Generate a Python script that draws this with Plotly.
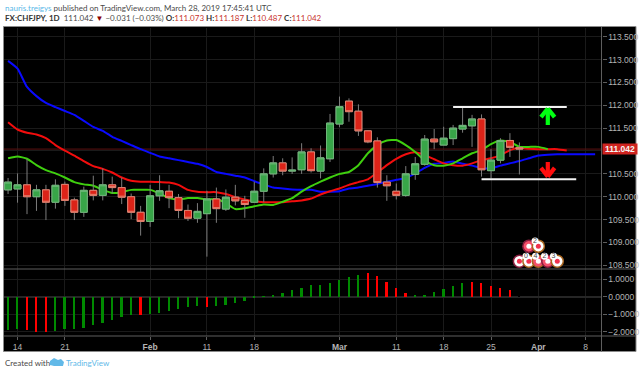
import plotly.graph_objects as go

W, H = 640, 374

bars = list(range(-1, 54))
opens = [110.15,110.17,110.26,110.00,110.15,109.88,110.27,109.93,109.66,110.14,110.03,110.26,110.20,110.00,109.66,109.46,110.02,110.12,109.98,109.70,109.53,109.63,109.95,109.73,109.99,109.92,109.88,110.12,110.50,110.74,110.56,110.59,110.98,110.56,110.83,111.59,112.09,111.87,111.44,111.22,110.32,110.12,110.03,110.49,110.71,111.26,111.13,111.27,111.48,111.55,111.70,110.57,110.80,111.23,111.073]
highs = [110.41,110.51,110.82,110.26,110.26,110.38,110.33,109.98,110.22,110.46,110.62,110.44,110.42,110.07,109.80,110.26,110.47,110.26,110.06,109.83,109.86,110.13,110.20,110.16,110.26,110.02,110.33,110.62,110.89,110.84,110.86,111.17,111.06,111.12,111.81,112.19,112.15,112.02,111.45,111.30,110.47,110.29,110.67,110.87,111.35,111.48,111.53,111.57,111.95,111.79,111.80,111.04,111.28,111.39,111.187]
lows = [110.06,109.87,109.62,109.69,109.49,109.74,109.80,109.49,109.56,109.92,109.92,110.07,109.84,109.51,109.15,109.34,109.91,109.75,109.53,109.47,109.43,108.69,109.43,109.69,109.81,109.54,109.87,109.88,110.42,110.47,110.50,110.50,110.53,110.40,110.76,111.52,111.64,111.33,111.17,110.20,109.91,109.94,110.00,110.37,110.68,111.04,111.13,111.13,111.40,111.09,110.44,110.40,110.73,110.87,110.487]
closes = [110.32,110.26,110.00,110.15,109.88,110.25,109.92,109.66,110.14,110.03,110.26,110.20,109.99,109.66,109.46,110.02,110.13,109.98,109.70,109.53,109.68,109.95,109.74,109.99,109.91,109.83,110.12,110.50,110.74,110.56,110.58,110.98,110.57,110.85,111.61,111.97,111.86,111.44,111.20,110.31,110.24,110.03,110.50,110.72,111.26,111.20,111.28,111.50,111.56,111.70,110.59,110.80,111.23,111.08,111.042]

blue_ma = [112.97,112.80,112.40,112.20,112.05,111.96,111.875,111.79,111.66,111.525,111.44,111.31,111.22,111.13,111.04,110.96,110.88,110.84,110.80,110.76,110.72,110.65,110.54,110.50,110.46,110.42,110.34,110.27,110.20,110.18,110.16,110.15,110.15,110.11,110.11,110.12,110.18,110.20,110.24,110.28,110.33,110.37,110.41,110.51,110.63,110.72,110.74,110.77,110.72,110.68,110.63,110.62,110.68,110.73,110.78,110.84,110.90,110.92,110.93,110.93,110.93,110.93,110.93]
red_ma = [111.63,111.47,111.40,111.36,111.28,111.13,111.01,110.90,110.78,110.67,110.61,110.53,110.42,110.35,110.33,110.33,110.32,110.31,110.26,110.15,110.11,110.10,110.10,110.06,109.99,109.94,109.90,109.88,109.88,109.88,109.90,109.92,109.96,110.05,110.12,110.18,110.26,110.32,110.38,110.53,110.69,110.83,110.93,110.97,110.91,110.82,110.73,110.69,110.68,110.73,110.80,110.84,110.91,111.02,111.07,111.05,111.04,111.04,111.04,111.01]
green_ma = [110.84,110.88,110.83,110.69,110.58,110.51,110.42,110.32,110.27,110.24,110.15,110.08,110.10,110.15,110.15,110.15,110.07,109.97,109.94,109.97,109.97,109.94,109.95,109.86,109.73,109.75,109.79,109.83,109.82,109.89,109.97,110.11,110.23,110.33,110.42,110.50,110.54,110.69,110.95,111.13,111.23,111.24,111.13,110.98,110.79,110.69,110.68,110.73,110.84,110.95,111.02,111.15,111.23,111.20,111.09,111.09,111.09,111.04]

osc_values = [-1.90,-1.85,-1.89,-2.00,-2.04,-1.94,-1.85,-1.83,-1.77,-1.60,-1.49,-1.33,-1.14,-1.05,-1.05,-1.01,-0.91,-0.82,-0.72,-0.59,-0.51,-0.57,-0.55,-0.48,-0.34,-0.25,-0.08,-0.02,0.10,0.21,0.38,0.51,0.67,0.67,0.78,0.95,1.10,1.26,1.33,1.18,0.84,0.50,0.21,0.04,0.10,0.27,0.46,0.63,0.78,0.82,0.78,0.61,0.50,0.36,0.23]
osc_rising = "GGRRRGGGGGGGGGRGGGGGGRGGGGGGGGGGGGGGGGRRRRRGGGGGGRRRRR"

price_ticks = [108.5,109.0,109.5,110.0,110.5,111.0,111.5,112.0,112.5,113.0,113.5]
price_labels = ["108.500","109.000","109.500","110.000","110.500","","111.500","112.000","112.500","113.000","113.500"]
osc_ticks = [1,0,-1,-2]
osc_labels = ["1.0000","0.0000","\u22121.0000","\u22122.0000"]
date_ticks = [0,5,14,20,25,34,40,45,50,55,60]
date_labels = ["14","21","<b>Feb</b>","11","18","<b>Mar</b>","11","18","25","<b>Apr</b>","8"]
last_price = 111.042
upper_level = [46, 58, 111.96]
lower_level = [49, 59, 110.38]

GRID = "#1a1a1a"
AXIS_TXT = "#b4b4b4"
FONT = "Liberation Sans"
HEAD_FONT = "Lato"
HEAD_SIZE = 8

def px(x): return x / W
def py(y): return 1 - y / H

fig = go.Figure()

# moving averages (under the candles)
fig.add_trace(go.Scatter(x=[-2, 62], y=[last_price, last_price], mode="lines", line=dict(color="#5c1212", width=1), yaxis="y"))
for vals, col in ((blue_ma, "#0a0aff"), (red_ma, "#f20d0d"), (green_ma, "#3fcf0f")):
    fig.add_trace(go.Scatter(x=list(range(-1, len(vals) - 1)), y=vals, mode="lines",
                             line=dict(color=col, width=2, shape="spline", smoothing=0.5), yaxis="y"))

# wicks
fig.add_trace(go.Candlestick(x=bars, open=opens, high=highs, low=lows, close=closes, yaxis="y3", whiskerwidth=0,
                             increasing=dict(line=dict(color="#7c7c7c", width=1), fillcolor="#7c7c7c"),
                             decreasing=dict(line=dict(color="#7c7c7c", width=1), fillcolor="#7c7c7c")))
# bodies
body_hi = [max(o, c) for o, c in zip(opens, closes)]
body_lo = [min(o, c) for o, c in zip(opens, closes)]
fig.add_trace(go.Candlestick(x=bars, open=opens, high=body_hi, low=body_lo, close=closes, yaxis="y3", whiskerwidth=0,
                             increasing=dict(line=dict(color="#6fb87a", width=1), fillcolor="#38a548"),
                             decreasing=dict(line=dict(color="#e4806e", width=1), fillcolor="#dc2318")))

# drawn levels
for lvl in (upper_level, lower_level):
    fig.add_trace(go.Scatter(x=lvl[:2], y=[lvl[2], lvl[2]], mode="lines", line=dict(color="#f2f2f2", width=2), yaxis="y3"))

# oscillator
fig.add_trace(go.Bar(x=bars, y=osc_values, width=0.19, yaxis="y2",
                     marker=dict(color=["#008a00" if c == "G" else "#ff0000" for c in osc_rising], line=dict(width=0))))

# event bubbles
dot_x = [53, 54, 55, 56, 57, 54, 55]
dot_y = [108.59, 108.59, 108.59, 108.59, 108.59, 108.92, 108.92]
ring = ["#8a1f3f", "#a8651f", "#a8651f", "#8a1f3f", "#a8651f", "#8a1f3f", "#a8651f"]
disc = ["#ffffff", "#ffffff", "#f5506a", "#f5506a", "#ffffff", "#f5506a", "#ffffff"]
centre = ["#f0324e", "#f0324e", "#ffffff", "#ffffff", "#f0324e", "#ffffff", "#f0324e"]
fig.add_trace(go.Scatter(x=dot_x, y=dot_y, mode="markers", yaxis="y3",
                         marker=dict(size=12, color=disc, line=dict(color=ring, width=1.5))))
fig.add_trace(go.Scatter(x=dot_x, y=dot_y, mode="markers", yaxis="y3",
                         marker=dict(size=5, color=centre)))
fig.add_trace(go.Scatter(x=[53.7, 54.7, 55.65, 56.6, 54.65], y=[108.70, 108.70, 108.70, 108.70, 109.03],
                         mode="markers+text", text=["0", "4", "2", "3", "2"], textposition="middle center",
                         textfont=dict(size=7, color="#444444", family=FONT), yaxis="y3",
                         marker=dict(size=7, color="#ffffff")))

shapes = [
    dict(type="rect", xref="paper", yref="paper", x0=px(3.5), x1=px(636), y0=py(351.5), y1=py(26.5),
         fillcolor="#000000", line=dict(color="#8a8a8a", width=1), layer="below"),
    dict(type="line", xref="paper", yref="paper", x0=px(4), x1=px(636), y0=py(269), y1=py(269), line=dict(color="#5e5e5e", width=1)),
    dict(type="line", xref="paper", yref="paper", x0=px(4), x1=px(636), y0=py(336), y1=py(336), line=dict(color="#5e5e5e", width=1)),
    dict(type="line", xref="paper", yref="paper", x0=px(601.5), x1=px(601.5), y0=py(351.5), y1=py(27), line=dict(color="#5e5e5e", width=1)),
]
arrow_i = 56
for (x0, y0, x1, y1, col) in [
    (arrow_i, 111.57, arrow_i, 111.91, "#00ff12"),
    (arrow_i - 0.72, 111.74, arrow_i, 111.93, "#00ff12"),
    (arrow_i + 0.72, 111.74, arrow_i, 111.93, "#00ff12"),
    (arrow_i, 110.76, arrow_i, 110.46, "#ff0d0d"),
    (arrow_i - 0.72, 110.63, arrow_i, 110.44, "#ff0d0d"),
    (arrow_i + 0.72, 110.63, arrow_i, 110.44, "#ff0d0d"),
]:
    shapes.append(dict(type="line", xref="x", yref="y", x0=x0, x1=x1, y0=y0, y1=y1, line=dict(color=col, width=4.2)))
# TradingView logo cloud
shapes.append(dict(type="path", xref="paper", yref="paper", fillcolor="#62b9e8", line=dict(width=0),
    path="M %f %f L %f %f L %f %f L %f %f L %f %f L %f %f L %f %f L %f %f Z" % (
        px(50), py(365), px(50), py(361), px(54), py(358), px(58), py(360), px(61), py(359),
        px(64), py(362), px(63), py(366), px(54), py(366))))

GR = "#4a4a4a"; RD = "#c8322d"; DK = "#333333"
line1 = ('<span style="color:#58b8e8">nauris.treigys</span>'
         '<span style="color:#4a4a4a"> published on TradingView.com, March 28, 2019 17:45:41 UTC</span>')
line2 = (f'<b><span style="color:{DK}">FX:CHFJPY, 1D</span></b>'
         f'<span style="color:{GR}">  111.042 </span><span style="color:#8b0000">\u25bc</span>'
         f'<span style="color:{GR}"> \u22120.031 (\u22120.03%) </span>'
         f'<b><span style="color:{DK}">O:</span></b><span style="color:{RD}">111.073 </span>'
         f'<b><span style="color:{DK}">H:</span></b><span style="color:{RD}">111.187 </span>'
         f'<b><span style="color:{DK}">L:</span></b><span style="color:{RD}">110.487 </span>'
         f'<b><span style="color:{DK}">C:</span></b><span style="color:{RD}">111.042</span>')
annotations = [
    dict(xref="paper", yref="paper", x=px(3), y=py(8), text=line1, showarrow=False, xanchor="left", yanchor="middle",
         font=dict(size=HEAD_SIZE, family=HEAD_FONT)),
    dict(xref="paper", yref="paper", x=px(3), y=py(18.5), text=line2, showarrow=False, xanchor="left", yanchor="middle",
         font=dict(size=HEAD_SIZE, family=HEAD_FONT)),
    dict(xref="paper", yref="paper", x=px(3), y=py(363), text="Created with", showarrow=False, xanchor="left", yanchor="middle",
         font=dict(size=HEAD_SIZE, family=HEAD_FONT, color="#4a4a4a")),
    dict(xref="paper", yref="paper", x=px(64), y=py(363), text="TradingView", showarrow=False, xanchor="left", yanchor="middle",
         font=dict(size=HEAD_SIZE, family=HEAD_FONT, color="#62b9e8")),
    dict(xref="paper", yref="y", x=px(602), y=last_price, text="<b>111.042</b>", showarrow=False, xanchor="left", yanchor="middle",
         width=34, height=10, bgcolor="#cf2420", borderpad=0, align="center",
         font=dict(size=8.5, family=FONT, color="#f5f5f5")),
]

price_range = [108.42, 113.70]
fig.update_layout(
    width=W, height=H, autosize=False, showlegend=False, paper_bgcolor="#ffffff", plot_bgcolor="#000000",
    margin=dict(l=0, r=0, t=0, b=0), boxgap=0.27, boxgroupgap=0, bargap=0,
    shapes=shapes, annotations=annotations,
    xaxis=dict(domain=[px(4), px(601.5)], range=[-1.43, 61.67], anchor="y2", tickvals=date_ticks, ticktext=date_labels,
               showgrid=True, gridcolor=GRID, gridwidth=1, zeroline=False, ticks="outside", ticklen=3, tickcolor="#5e5e5e",
               tickfont=dict(size=8.5, family=FONT, color=AXIS_TXT), rangeslider=dict(visible=False), showline=False),
    yaxis=dict(domain=[py(269), py(27.5)], range=price_range, side="right", anchor="x", tickvals=price_ticks, ticktext=price_labels,
               showgrid=True, gridcolor=GRID, gridwidth=1, zeroline=False, ticks="outside", ticklen=4, tickcolor="#5e5e5e",
               tickfont=dict(size=8.5, family=FONT, color=AXIS_TXT)),
    yaxis2=dict(domain=[py(336), py(269)], range=[-2.25, 1.58], side="right", anchor="x", tickvals=osc_ticks, ticktext=osc_labels,
                showgrid=True, gridcolor=GRID, gridwidth=1, zeroline=True, zerolinecolor="#262626", ticks="outside", ticklen=4,
                tickcolor="#5e5e5e", tickfont=dict(size=8.5, family=FONT, color=AXIS_TXT)),
    yaxis3=dict(overlaying="y", range=price_range, side="right", anchor="x", visible=False, showgrid=False),
)

fig.write_html("out.html", config={"displayModeBar": False},
               post_script="document.body.style.margin='0';document.body.style.overflow='hidden';")
